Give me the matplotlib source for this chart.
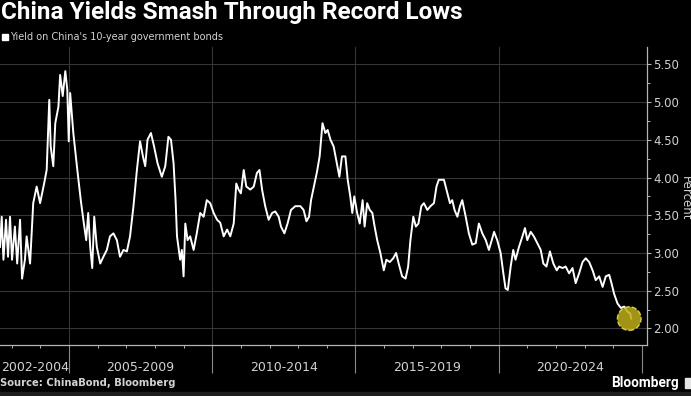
import matplotlib.pyplot as plt
import matplotlib.patches as mpatches
from matplotlib.ticker import FixedLocator, FormatStrFormatter
import numpy as np

# China 10-year government bond yield (decimal years, percent)
years = [
    2002.59, 2002.65, 2002.71, 2002.80, 2002.87, 2002.94, 2003.01, 2003.11, 2003.19, 2003.29,
    2003.36, 2003.46, 2003.52, 2003.64, 2003.75, 2003.87, 2003.99, 2004.13, 2004.22, 2004.31,
    2004.36, 2004.45, 2004.52, 2004.63, 2004.69, 2004.78, 2004.87, 2004.94, 2004.99, 2005.04,
    2005.15, 2005.29, 2005.41, 2005.50, 2005.60, 2005.67, 2005.74, 2005.81, 2005.88, 2005.97,
    2006.09, 2006.20, 2006.32, 2006.43, 2006.55, 2006.67, 2006.78, 2006.90, 2007.02, 2007.13,
    2007.25, 2007.37, 2007.48, 2007.58, 2007.66, 2007.74, 2007.86, 2007.97, 2008.09, 2008.24,
    2008.36, 2008.47, 2008.56, 2008.65, 2008.72, 2008.77, 2008.82, 2008.88, 2008.94, 2009.00,
    2009.06, 2009.14, 2009.23, 2009.35, 2009.46, 2009.58, 2009.70, 2009.81, 2009.93, 2010.05,
    2010.17, 2010.28, 2010.40, 2010.52, 2010.63, 2010.75, 2010.84, 2010.92, 2011.00, 2011.10,
    2011.19, 2011.33, 2011.45, 2011.56, 2011.65, 2011.74, 2011.85, 2011.97, 2012.09, 2012.20,
    2012.32, 2012.40, 2012.52, 2012.63, 2012.75, 2012.90, 2013.08, 2013.19, 2013.29, 2013.38,
    2013.45, 2013.57, 2013.66, 2013.75, 2013.85, 2013.95, 2014.03, 2014.13, 2014.24, 2014.36,
    2014.44, 2014.53, 2014.65, 2014.73, 2014.82, 2014.89, 2014.96, 2015.06, 2015.15, 2015.25,
    2015.32, 2015.41, 2015.50, 2015.59, 2015.67, 2015.76, 2015.87, 2015.99, 2016.08, 2016.20,
    2016.32, 2016.42, 2016.51, 2016.63, 2016.75, 2016.84, 2016.92, 2017.02, 2017.11, 2017.20,
    2017.30, 2017.39, 2017.51, 2017.62, 2017.74, 2017.83, 2017.91, 2018.03, 2018.09, 2018.21,
    2018.30, 2018.38, 2018.46, 2018.56, 2018.65, 2018.73, 2018.85, 2018.96, 2019.08, 2019.20,
    2019.31, 2019.43, 2019.55, 2019.66, 2019.76, 2019.84, 2019.95, 2020.07, 2020.15, 2020.24,
    2020.32, 2020.42, 2020.51, 2020.59, 2020.71, 2020.83, 2020.92, 2021.00, 2021.12, 2021.23,
    2021.35, 2021.47, 2021.56, 2021.67, 2021.79, 2021.91, 2022.03, 2022.11, 2022.23, 2022.34,
    2022.46, 2022.58, 2022.69, 2022.81, 2022.93, 2023.04, 2023.16, 2023.28, 2023.39, 2023.51,
    2023.63, 2023.74, 2023.86, 2023.94, 2024.03, 2024.15, 2024.27, 2024.38, 2024.50, 2024.59,
    2024.63,
]
yields = [
    3.08, 3.48, 2.91, 3.44, 2.95, 3.48, 2.91, 3.35, 2.86, 3.44,
    2.66, 2.91, 3.22, 2.86, 3.66, 3.88, 3.66, 3.92, 4.10, 5.03,
    4.41, 4.15, 4.72, 4.94, 5.36, 5.08, 5.41, 5.16, 4.48, 5.12,
    4.59, 4.10, 3.70, 3.44, 3.17, 3.53, 3.08, 2.80, 3.48, 3.08,
    2.86, 2.95, 3.04, 3.22, 3.26, 3.17, 2.95, 3.04, 3.02, 3.22,
    3.62, 4.10, 4.48, 4.28, 4.15, 4.50, 4.59, 4.41, 4.19, 4.01,
    4.15, 4.54, 4.50, 4.19, 3.70, 3.22, 3.08, 2.91, 3.04, 2.69,
    3.39, 3.17, 3.22, 3.04, 3.26, 3.53, 3.48, 3.70, 3.66, 3.53,
    3.44, 3.40, 3.22, 3.31, 3.22, 3.39, 3.92, 3.84, 3.79, 4.10,
    3.88, 3.84, 3.88, 4.06, 4.10, 3.84, 3.62, 3.44, 3.53, 3.55,
    3.48, 3.35, 3.26, 3.39, 3.57, 3.62, 3.62, 3.57, 3.42, 3.48,
    3.70, 3.92, 4.08, 4.28, 4.72, 4.59, 4.63, 4.50, 4.41, 4.17,
    4.01, 4.28, 4.28, 3.97, 3.75, 3.53, 3.75, 3.53, 3.39, 3.70,
    3.35, 3.66, 3.57, 3.53, 3.35, 3.17, 3.00, 2.77, 2.91, 2.88,
    2.93, 3.00, 2.86, 2.69, 2.66, 2.82, 3.17, 3.48, 3.35, 3.39,
    3.62, 3.66, 3.57, 3.62, 3.66, 3.88, 3.97, 3.97, 3.97, 3.79,
    3.66, 3.70, 3.57, 3.48, 3.62, 3.70, 3.48, 3.26, 3.11, 3.13,
    3.39, 3.26, 3.17, 3.04, 3.17, 3.28, 3.17, 3.00, 2.77, 2.53,
    2.51, 2.82, 3.04, 2.91, 3.08, 3.22, 3.33, 3.17, 3.28, 3.22,
    3.13, 3.04, 2.86, 2.82, 3.02, 2.86, 2.77, 2.82, 2.80, 2.82,
    2.73, 2.80, 2.60, 2.73, 2.88, 2.93, 2.88, 2.77, 2.64, 2.69,
    2.55, 2.69, 2.71, 2.60, 2.46, 2.33, 2.27, 2.29, 2.22, 2.20,
    2.13,
]

record_low = (2024.56, 2.13)

period_bounds = [2005, 2010, 2015, 2020, 2025]
period_labels = ["2002-2004", "2005-2009", "2010-2014", "2015-2019", "2020-2024"]
period_centers = [2003.8, 2007.5, 2012.5, 2017.5, 2022.5]

y_ticks = [2.0, 2.5, 3.0, 3.5, 4.0, 4.5, 5.0, 5.5]

W, H = 691, 396
fig = plt.figure(figsize=(W / 100, H / 100), dpi=100, facecolor="black")
ax = fig.add_axes([0, 1 - 345 / H, 647 / W, 298 / H], facecolor="black")

grid_c = "#363636"
text_c = "#d2d2d2"
spine_c = "#b4b4b4"

for v in y_ticks:
    ax.axhline(v, color=grid_c, lw=0.8, zorder=0)
for b in period_bounds[:-1]:
    ax.axvline(b, color=grid_c, lw=0.8, zorder=0)

ax.plot(years, yields, color="white", lw=1.4, zorder=3)

ax.scatter([record_low[0]], [record_low[1]], s=290, color="#bfae18", alpha=0.85,
           edgecolors="#efe060", linewidths=1.0, linestyles="--", zorder=4)

ax.set_xlim(2002.59, 2025.18)
ax.set_ylim(1.78, 5.73)

for s in ["top", "left"]:
    ax.spines[s].set_visible(False)
for s in ["right", "bottom"]:
    ax.spines[s].set_color(spine_c)
    ax.spines[s].set_linewidth(0.9)

# y axis on the right
ax.yaxis.tick_right()
ax.yaxis.set_major_locator(FixedLocator(y_ticks))
ax.yaxis.set_minor_locator(FixedLocator(np.arange(2.25, 5.6, 0.5)))
ax.yaxis.set_major_formatter(FormatStrFormatter("%.2f"))
ax.tick_params(axis="y", which="major", direction="out", length=3, width=0.8,
               color=spine_c, labelcolor=text_c, labelsize=8.5, pad=1.5)
ax.tick_params(axis="y", which="minor", direction="out", length=2, width=0.7, color=spine_c)

# x axis: long separators between periods, small yearly ticks
ax.xaxis.set_major_locator(FixedLocator(period_bounds))
ax.xaxis.set_minor_locator(FixedLocator(range(2003, 2025)))
ax.tick_params(axis="x", which="major", direction="out", length=20, width=0.8,
               color="#8a8a8a", labelbottom=False)
ax.tick_params(axis="x", which="minor", direction="out", length=2.5, width=0.7, color=spine_c)

for c, lab in zip(period_centers, period_labels):
    ax.text(c, -0.077, lab, transform=ax.get_xaxis_transform(), ha="center", va="center",
            color=text_c, fontsize=9)

fig.text(685 / W, 1 - 198 / H, "Percent", rotation=270, ha="center", va="center",
         color=text_c, fontsize=8.5)

fig.text(0.002, 1 - 12 / H, "China Yields Smash Through Record Lows", ha="left", va="center",
         color="white", fontsize=17.5, fontweight="bold", family="Roboto")

fig.patches.append(mpatches.Rectangle((2 / W, 1 - 40 / H), 6 / W, 6 / H, color="white",
                                      transform=fig.transFigure, figure=fig))
fig.text(10 / W, 1 - 37 / H, "Yield on China's 10-year government bonds", ha="left", va="center",
         color=text_c, fontsize=7)

fig.text(0.0, 1 - 383 / H, "Source: ChinaBond, Bloomberg", ha="left", va="center",
         color=text_c, fontsize=7.2, fontweight="bold")
fig.text(611 / W, 1 - 383 / H, "Bloomberg", ha="left", va="center",
         color="white", fontsize=9.8, fontweight="bold", family="Roboto")
fig.patches.append(mpatches.Rectangle((685 / W, 1 - 388 / H), 9 / W, 10 / H, color="#e6e6e6",
                                      transform=fig.transFigure, figure=fig))
fig.patches.append(mpatches.Rectangle((0, 0), 1, 4 / H, color="#1e1e1e",
                                      transform=fig.transFigure, figure=fig))

fig.savefig("out.png", dpi=100, facecolor="black")
